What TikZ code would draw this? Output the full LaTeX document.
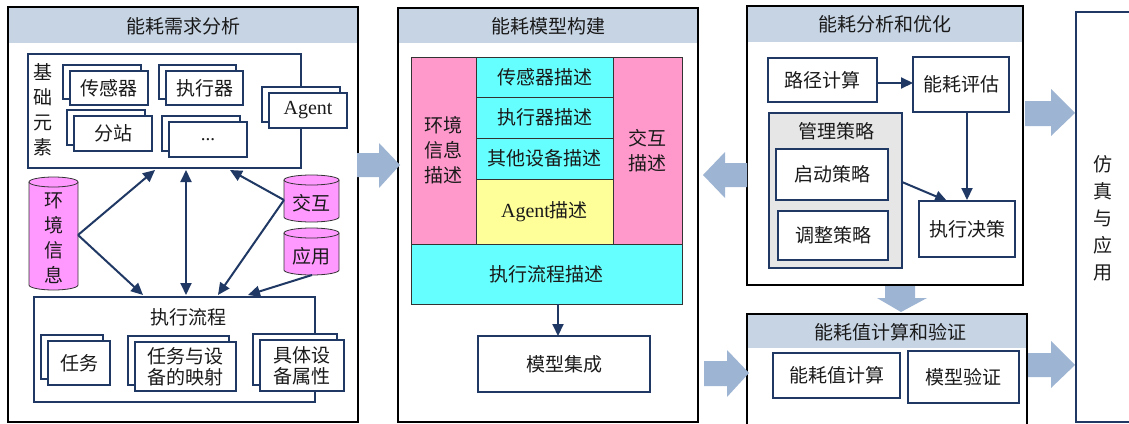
\documentclass[tikz,border=0pt]{standalone}
\usepackage{fontspec}
\setmainfont{Liberation Serif}
\newfontfamily\cjk{Noto Sans CJK SC}
\usetikzlibrary{arrows.meta}
\definecolor{navy}{HTML}{1F3864}
\definecolor{hdr}{HTML}{C7D4E4}
\definecolor{blk}{HTML}{9DB4D3}
\definecolor{mag}{HTML}{FF99FF}
\definecolor{pnk}{HTML}{FF99CC}
\definecolor{cyn}{HTML}{66FFFF}
\definecolor{ylw}{HTML}{FFFF99}
\definecolor{gry}{HTML}{E6E6E6}
\definecolor{txt}{HTML}{1A1A1A}
\definecolor{thin}{HTML}{333333}
\newcommand\cf{\cjk\fontsize{19}{21}\selectfont}
\newcommand\vf{\cjk\fontsize{19}{25}\selectfont}
\newcommand\agt{{\rmfamily\fontsize{20}{22}\selectfont Agent}}
\newcommand\bx[7]{\node[#6,minimum width={(#4-#2)*1pt},minimum height={(#5-#3)*1pt},inner sep=0pt] (#1) at ({(#2+#4)/2},{(#3+#5)/2}) {#7};}
\newcommand\sbx[6]{\bx{#1b}{(#2-7)}{(#3-6)}{(#4-7)}{(#5-6)}{nbox}{}\bx{#1}{#2}{#3}{#4}{#5}{nbox}{#6}}
\newcommand\cyl[5]{%
  \draw[cylst] (#2,#3+5) -- (#2,#5-5) arc[start angle=180,end angle=0,x radius={(#4-#2)/2},y radius=5] -- (#4,#3+5) arc[start angle=0,end angle=-180,x radius={(#4-#2)/2},y radius=5] -- cycle;
  \draw[cylln] (#2,#3+5) arc[start angle=180,end angle=0,x radius={(#4-#2)/2},y radius=5];}
\tikzset{
  nbox/.style={draw=navy,line width=2pt,fill=white,text=txt,font=\cf,align=center},
  ibox/.style={draw=thin,line width=1pt,text=txt,font=\cf,align=center},
  panel/.style={draw=black,line width=1.6pt},
  title/.style={text=txt,font=\cf,inner sep=0pt},
  vtext/.style={text=txt,font=\vf,align=center,inner sep=0pt},
  ctext/.style={text=txt,font=\cf,inner sep=0pt},
  cylst/.style={fill=mag,draw=thin,line width=0.8pt},
  cylln/.style={draw=thin,line width=0.8pt},
  arr/.style={draw=navy,line width=2pt,-{Triangle[length=12pt,width=11pt]}},
  darr/.style={draw=navy,line width=2pt,{Triangle[length=12pt,width=11pt]}-{Triangle[length=12pt,width=11pt]}},
  barrow/.style={fill=blk}
}
\begin{document}
\begin{tikzpicture}[x=1pt,y=-1pt]
\useasboundingbox (0,0) rectangle (1129,423);
\clip (0,0) rectangle (1129,423);
\fill[white] (0,0) rectangle (1129,423);

% ===== Panel 1 =====
\fill[hdr] (8,7) rectangle (358,43);
\bx{p1}{8}{7}{358}{422}{panel}{}
\node[title] (p1t) at (183,26) {能耗需求分析};
\bx{base}{28}{54}{301}{168}{nbox}{}
\node[vtext] (jcys) at (43,110) {基\\础\\元\\素};
\sbx{sens}{70}{71}{148}{105}{传感器}
\sbx{act}{166}{71}{243}{105}{执行器}
\sbx{sub}{74}{116}{152}{151}{分站}
\sbx{etc}{169}{122}{247}{157}{{\rmfamily ...}}
\sbx{agent}{269}{93}{347}{128}{\agt}
\bx{flow}{34}{297}{315}{402}{nbox}{}
\node[title] (flowt) at (188,317) {执行流程};
\sbx{task}{48}{341}{110}{385}{任务}
\sbx{map}{135}{342}{236}{391}{任务与设\\备的映射}
\sbx{attr}{260}{340}{344}{391}{具体设\\备属性}
\cyl{envc}{29}{177}{78}{290}
\cyl{jhc}{284}{175}{339}{222}
\cyl{yyc}{284}{228}{339}{275}
\node[vtext] (env) at (53.5,238) {环\\境\\信\\息};
\node[ctext] (jh) at (311.5,203) {交互};
\node[ctext] (yy) at (311.5,256) {应用};
\coordinate (envR) at (78,235);
\coordinate (jhL) at (284,200);
\coordinate (yyB) at (312,275);
\coordinate (t1) at (155,170);
\coordinate (t2) at (143,295);
\coordinate (t3) at (186,170);
\coordinate (t4) at (186,295);
\coordinate (t5) at (230,170);
\coordinate (t6) at (218,295);
\coordinate (t7) at (248,295);
\draw[arr] (envR) -- (t1);
\draw[arr] (envR) -- (t2);
\draw[darr] (t3) -- (t4);
\draw[arr] (jhL) -- (t5);
\draw[arr] (jhL) -- (t6);
\draw[arr] (yyB) -- (t7);

% ===== Panel 2 =====
\fill[hdr] (398,8) rectangle (698,43);
\bx{p2}{398}{8}{698}{422}{panel,line width=2pt}{}
\node[title] (p2t) at (548,26) {能耗模型构建};
\bx{envd}{411}{57}{476}{244}{ibox,fill=pnk,font=\vf}{环境\\信息\\描述}
\bx{intd}{613}{57}{682}{244}{ibox,fill=pnk,font=\vf}{交互\\描述}
\bx{sensd}{476}{57}{613}{97}{ibox,fill=cyn}{传感器描述}
\bx{actd}{476}{97}{613}{138}{ibox,fill=cyn}{执行器描述}
\bx{othd}{476}{138}{613}{179}{ibox,fill=cyn}{其他设备描述}
\bx{agd}{476}{179}{613}{244}{ibox,fill=ylw}{\agt 描述}
\bx{flowd}{411}{244}{682}{304}{ibox,fill=cyn}{执行流程描述}
\bx{integ}{478}{336}{650}{392}{nbox}{模型集成}
\coordinate (f1) at (558,304);
\coordinate (f2) at (558,336);
\draw[arr] (f1) -- (f2);

% ===== Panel 3 =====
\fill[hdr] (747,6) rectangle (1023,42);
\bx{p3}{747}{6}{1023}{285}{panel,line width=2pt}{}
\node[title] (p3t) at (885,24) {能耗分析和优化};
\bx{path}{768}{58}{877}{102}{nbox}{路径计算}
\bx{eval}{913}{57}{1009}{112}{nbox}{能耗评估}
\bx{mgmt}{769}{113}{902}{268}{nbox,fill=gry}{}
\node[title] (mgmtt) at (836,131) {管理策略};
\bx{start}{776}{149}{888}{200}{nbox}{启动策略}
\bx{adj}{778}{211}{888}{260}{nbox}{调整策略}
\bx{exec}{919}{201}{1015}{257}{nbox}{执行决策}
\coordinate (pe) at (877,83);
\coordinate (ee) at (913,83);
\draw[arr] (pe) -- (ee);
\draw[arr] (exec.north |- eval.south) -- (exec.north);
\coordinate (mgR) at (902,182);
\coordinate (exTL) at (947,201);
\draw[arr] (mgR) -- (exTL);

% ===== Panel 3b =====
\fill[hdr] (747,314) rectangle (1027,348);
\bx{p4}{747}{314}{1027}{440}{panel,line width=2pt}{}
\node[title] (p4t) at (890,332) {能耗值计算和验证};
\bx{calc}{773}{353}{900}{398}{nbox}{能耗值计算}
\bx{verify}{908}{351}{1019}{403}{nbox}{模型验证}

% ===== Simulation =====
\bx{sim}{1076}{12}{1150}{422}{draw=navy,line width=2pt}{}
\node[vtext,font=\cjk\fontsize{19}{27}\selectfont] (simt) at (1103,218) {仿\\真\\与\\应\\用};

% ===== Block arrows =====
\fill[barrow] (357,153) -- (379,153) -- (379,143) -- (400,165) -- (379,188) -- (379,177) -- (357,177) -- cycle;
\fill[barrow] (747,163) -- (725,163) -- (725,152) -- (703,175) -- (725,198) -- (725,187) -- (747,187) -- cycle;
\fill[barrow] (885,286) -- (915,286) -- (915,298) -- (927,298) -- (901,312) -- (877,298) -- (885,298) -- cycle;
\fill[barrow] (1025,101) -- (1051,101) -- (1051,89) -- (1075,113) -- (1051,136) -- (1051,126) -- (1025,126) -- cycle;
\fill[barrow] (1028,353) -- (1051,353) -- (1051,341) -- (1075,365) -- (1051,388) -- (1051,377) -- (1028,377) -- cycle;
\fill[barrow] (704,361) -- (727,361) -- (727,350) -- (749,373) -- (727,397) -- (727,386) -- (704,386) -- cycle;
\end{tikzpicture}
\end{document}
